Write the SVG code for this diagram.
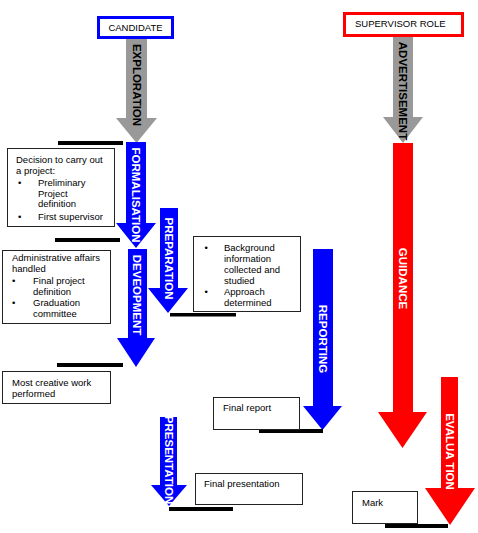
<svg xmlns="http://www.w3.org/2000/svg" width="478" height="533" viewBox="0 0 478 533">
<style>
text{font-family:"Liberation Sans",Arial,sans-serif;font-size:9.5px;fill:#000}
.box{fill:#fff;stroke:#222;stroke-width:1}
.bar{fill:#000}
.lbl{font-size:11.5px;font-weight:bold;text-anchor:middle}
.w{fill:#fff}
.blue{fill:#0000ff}
.red{fill:#ff0000}
.gray{fill:#999999}
</style>
<rect width="478" height="533" fill="#fff"/>

<g id="connectors">
  <g id="arrow-exploration">
    <polygon class="gray" points="126,39 147,39 147,118 157,118 136.5,143 116,118 126,118"/>
    <text class="lbl" transform="translate(132.5,85) rotate(90)">EXPLORATION</text>
  </g>
  <g id="arrow-advertisement">
    <polygon class="gray" points="393,37 413,37 413,117 423,117 403,143 383,117 393,117"/>
    <text class="lbl" font-size="12" transform="translate(399,91) rotate(90)">ADVERTISEMENT</text>
  </g>
  <g id="arrow-formalisation">
    <polygon class="blue" points="126,142 146,142 146,223 156,223 136,248 116,223 126,223"/>
    <text class="lbl w" font-size="12.5" transform="translate(131.5,195) rotate(90)">FORMALISATION</text>
  </g>
  <g id="arrow-development">
    <polygon class="blue" points="128,249 147,249 147,338 155,338 136,367 117,338 128,338"/>
    <text class="lbl w" font-size="12" transform="translate(133,295) rotate(90)">DEVEOPMENT</text>
  </g>
  <g id="arrow-preparation">
    <polygon class="blue" points="160,208 178,208 178,288 188,288 168,313 148,288 160,288"/>
    <text class="lbl w" font-size="12" transform="translate(164.5,258.5) rotate(90)">PREPARATION</text>
  </g>
  <g id="arrow-reporting">
    <polygon class="blue" points="313,249 333,249 333,406 342,406 322.5,430 303,406 313,406"/>
    <text class="lbl w" transform="translate(319,339) rotate(90)">REPORTING</text>
  </g>
  <g id="arrow-presentation">
    <polygon class="blue" points="160,417 177,417 177,485 187,485 169,506 151,485 160,485"/>
    <text class="lbl w" font-size="10.5" transform="translate(165,460) rotate(90)">PRESENTATION</text>
  </g>
  <g id="arrow-guidance">
    <polygon class="red" points="393,143 413,143 413,412 427,412 402.5,448 378,412 393,412"/>
    <text class="lbl w" font-size="11.8" transform="translate(399,278.5) rotate(90)">GUIDANCE</text>
  </g>
  <g id="arrow-evaluation">
    <polygon class="red" points="441,377 458,377 458,488 475,488 450,525 425,488 441,488"/>
    <text class="lbl w" transform="translate(445.5,451.5) rotate(90)">EVALUA TION</text>
  </g>
</g>

<g id="bars">
  <rect class="bar" x="58" y="141" width="65" height="4"/>
  <rect class="bar" x="55" y="238" width="65" height="4"/>
  <rect class="bar" x="57" y="363" width="66" height="4"/>
  <rect class="bar" x="170" y="313" width="66" height="3.5"/>
  <rect class="bar" x="259" y="429" width="64" height="4"/>
  <rect class="bar" x="169" y="507" width="64" height="4"/>
  <rect class="bar" x="385" y="524" width="63" height="4"/>
</g>

<g id="candidate">
  <rect x="98.5" y="17.5" width="74" height="20" fill="#fff" stroke="#0000ff" stroke-width="3"/>
  <text x="135.5" y="30.5" text-anchor="middle">CANDIDATE</text>
</g>

<g id="supervisor-role">
  <rect x="344.5" y="13.5" width="118" height="22" fill="#fff" stroke="#ff0000" stroke-width="3"/>
  <text x="355" y="26.5">SUPERVISOR ROLE</text>
</g>

<g id="decision">
  <rect class="box" x="7.5" y="148.5" width="107" height="78"/>
  <text x="16" y="163">Decision to carry out</text>
  <text x="16" y="173.5">a project:</text>
  <text x="18" y="185.5">•</text>
  <text x="38" y="185.5">Preliminary</text>
  <text x="38" y="196.5">Project</text>
  <text x="38" y="207">definition</text>
  <text x="18" y="219.5">•</text>
  <text x="38" y="219.5">First supervisor</text>
</g>

<g id="admin">
  <rect class="box" x="2.5" y="250.5" width="108" height="73"/>
  <text x="12" y="261">Administrative affairs</text>
  <text x="12" y="272">handled</text>
  <text x="12" y="284">•</text>
  <text x="33" y="284">Final project</text>
  <text x="33" y="295">definition</text>
  <text x="12" y="306">•</text>
  <text x="33" y="306">Graduation</text>
  <text x="33" y="317">committee</text>
</g>

<g id="creative">
  <rect class="box" x="2.5" y="371.5" width="108" height="32"/>
  <text x="12" y="385.5">Most creative work</text>
  <text x="12" y="396.5">performed</text>
</g>

<g id="background">
  <rect class="box" x="193.5" y="236.5" width="107" height="75"/>
  <text x="204.5" y="250.5">•</text>
  <text x="224" y="250.5">Background</text>
  <text x="224" y="261.5">information</text>
  <text x="224" y="272.5">collected and</text>
  <text x="224" y="283.5">studied</text>
  <text x="204.5" y="294.5">•</text>
  <text x="224" y="294.5">Approach</text>
  <text x="224" y="305.5">determined</text>
</g>

<g id="final-report">
  <rect class="box" x="213.5" y="397.5" width="86" height="32"/>
  <text x="223" y="410.5">Final report</text>
</g>

<g id="final-presentation">
  <rect class="box" x="195.5" y="473.5" width="107" height="31"/>
  <text x="204" y="486.5">Final presentation</text>
</g>

<g id="mark">
  <rect class="box" x="352.5" y="491.5" width="65" height="32"/>
  <text x="362" y="505.5">Mark</text>
</g>
</svg>
